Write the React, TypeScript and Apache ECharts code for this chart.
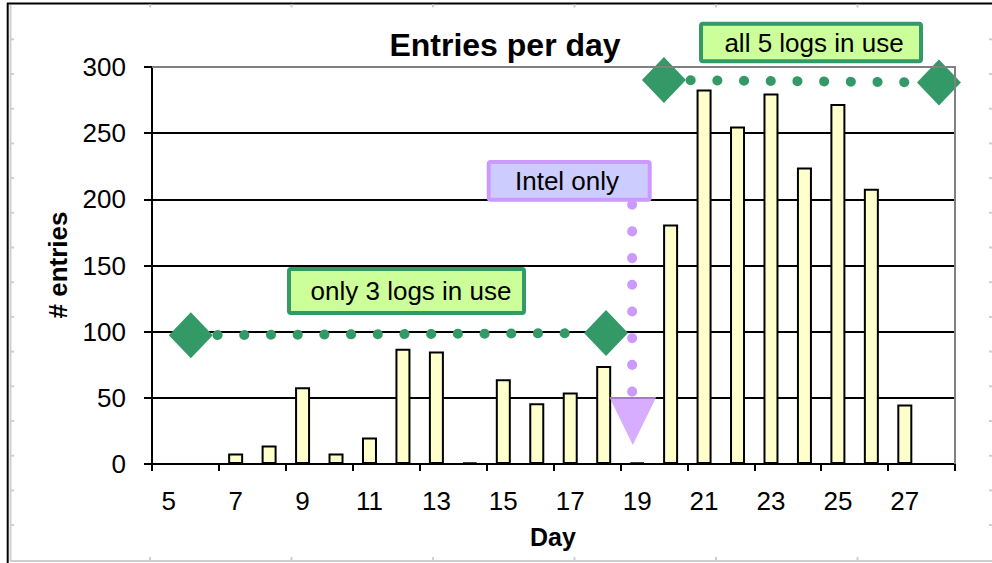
import { useEffect, useRef } from "react";
import * as echarts from "echarts";

// Day numbers on the category axis
const days = [
  "5", "6", "7", "8", "9", "10", "11", "12", "13", "14", "15", "16",
  "17", "18", "19", "20", "21", "22", "23", "24", "25", "26", "27", "28",
];

// Log entries recorded each day (null = no bar)
const entries = [
  null, null, 8, 14, 58, 8, 20, 87, 85, 1, 64, 46,
  54, 74, 1, 181, 283, 255, 280, 224, 272, 208, 45, null,
];

// Annotation markers, as [day, entries]
const threeLogsLine = [
  [5.66, 97.3],
  [18.07, 99],
];
const fiveLogsLine = [
  [19.8, 290.2],
  [28.02, 288.3],
];
const intelLine = [
  [18.85, 196],
  [18.85, 48],
];
const intelArrow = [[18.87, 32.5]];

// Annotation captions
const threeLogsLabel = "only 3 logs in use";
const fiveLogsLabel = "all 5 logs in use";
const intelLabel = "Intel only";

const FONT = "'Liberation Sans', Arial, sans-serif";
const GREEN = "#339966";
const PURPLE = "#CC99FF";

function frameGraphics() {
  const items: any[] = [];
  const grey = "#cfcfcf";
  // worksheet frame
  items.push({
    type: "line",
    shape: { x1: 7, y1: 3.5, x2: 992, y2: 3.5 },
    style: { stroke: "#000", lineWidth: 2 },
    z: 1,
  });
  items.push({
    type: "line",
    shape: { x1: 7.7, y1: 3, x2: 7.7, y2: 563 },
    style: { stroke: "#000", lineWidth: 2 },
    z: 1,
  });
  items.push({
    type: "line",
    shape: { x1: 10.5, y1: 5, x2: 10.5, y2: 561 },
    style: { stroke: grey, lineWidth: 2 },
    z: 1,
  });
  items.push({
    type: "line",
    shape: { x1: 10, y1: 561, x2: 992, y2: 561 },
    style: { stroke: grey, lineWidth: 2 },
    z: 1,
  });
  for (let y = 39.3; y < 556; y += 34.7) {
    items.push({
      type: "line",
      shape: { x1: 11, y1: y, x2: 14, y2: y },
      style: { stroke: grey, lineWidth: 2 },
      z: 1,
    });
    items.push({
      type: "line",
      shape: { x1: 989, y1: y, x2: 992, y2: y },
      style: { stroke: grey, lineWidth: 2 },
      z: 1,
    });
  }
  for (let x = 150; x < 990; x += 141.5) {
    items.push({
      type: "line",
      shape: { x1: x, y1: 4.5, x2: x, y2: 7.5 },
      style: { stroke: grey, lineWidth: 2 },
      z: 1,
    });
    items.push({
      type: "line",
      shape: { x1: x, y1: 557, x2: x, y2: 561 },
      style: { stroke: grey, lineWidth: 2 },
      z: 1,
    });
  }
  return items;
}

function captionBox(
  x: number,
  y: number,
  w: number,
  h: number,
  text: string,
  textX: number,
  fill: string,
  stroke: string
) {
  return [
    {
      type: "rect",
      shape: { x, y, width: w, height: h, r: 2 },
      style: { fill, stroke, lineWidth: 4 },
      z: 100,
    },
    {
      type: "text",
      x: textX,
      y: y + h / 2,
      style: {
        text,
        fill: "#000",
        font: `26px ${FONT}`,
        align: "center",
        verticalAlign: "middle",
      },
      z: 101,
    },
  ];
}

export default function App() {
  const ref = useRef<HTMLDivElement>(null);

  useEffect(() => {
    if (!ref.current) return;
    const chart = echarts.init(ref.current, undefined, { renderer: "svg" });

    const dotted = (color: string) => ({
      color,
      width: 10,
      type: [0.1, 26.6],
      cap: "round",
    });

    chart.setOption({
      animation: false,
      backgroundColor: "#ffffff",
      grid: { left: 152, right: 37, top: 67, bottom: 99, containLabel: false },
      xAxis: [
        {
          type: "category",
          data: days,
          boundaryGap: true,
          axisLine: { show: true, lineStyle: { color: "#000", width: 2 } },
          axisTick: {
            show: true,
            interval: 1,
            length: 7,
            alignWithLabel: false,
            lineStyle: { color: "#000", width: 2 },
          },
          axisLabel: {
            interval: 1,
            fontSize: 26,
            fontFamily: FONT,
            color: "#000",
            margin: 24,
          },
          splitLine: { show: false },
        },
        {
          type: "value",
          min: 4.5,
          max: 28.5,
          show: false,
          splitLine: { show: false },
        },
      ],
      yAxis: {
        type: "value",
        min: 0,
        max: 300,
        interval: 50,
        axisLine: { show: true, lineStyle: { color: "#000", width: 2 } },
        axisTick: {
          show: true,
          length: 8,
          lineStyle: { color: "#000", width: 2 },
        },
        axisLabel: {
          fontSize: 26,
          fontFamily: FONT,
          color: "#000",
          margin: 26,
        },
        splitLine: { show: true, lineStyle: { color: "#000", width: 2 } },
      },
      series: [
        {
          name: "Entries",
          type: "bar",
          xAxisIndex: 0,
          data: entries,
          barWidth: 15,
          itemStyle: { color: "#FFFFCC", borderColor: "#000", borderWidth: 2 },
          silent: true,
          z: 3,
        },
        {
          name: threeLogsLabel,
          type: "line",
          xAxisIndex: 1,
          data: threeLogsLine,
          symbol: "diamond",
          symbolSize: [44, 46],
          itemStyle: { color: GREEN },
          lineStyle: dotted(GREEN),
          silent: true,
          z: 5,
        },
        {
          name: fiveLogsLabel,
          type: "line",
          xAxisIndex: 1,
          data: fiveLogsLine,
          symbol: "diamond",
          symbolSize: [44, 46],
          itemStyle: { color: GREEN },
          lineStyle: dotted(GREEN),
          silent: true,
          z: 5,
        },
        {
          name: intelLabel,
          type: "line",
          xAxisIndex: 1,
          data: intelLine,
          symbol: "none",
          lineStyle: dotted(PURPLE),
          silent: true,
          z: 5,
        },
        {
          name: intelLabel + " arrow",
          type: "scatter",
          xAxisIndex: 1,
          data: intelArrow,
          symbol: "triangle",
          symbolRotate: 180,
          symbolSize: [47, 48],
          itemStyle: { color: PURPLE },
          silent: true,
          z: 6,
        },
      ],
      graphic: [
        ...frameGraphics(),
        {
          type: "polyline",
          shape: {
            points: [
              [152, 67],
              [955, 67],
              [955, 464],
            ],
          },
          style: { stroke: "#808080", lineWidth: 2, fill: null },
          z: 50,
        },
        {
          type: "text",
          x: 505,
          y: 45,
          style: {
            text: "Entries per day",
            fill: "#000",
            font: `bold 32px ${FONT}`,
            align: "center",
            verticalAlign: "middle",
          },
          z: 100,
        },
        {
          type: "text",
          x: 553,
          y: 536.5,
          style: {
            text: "Day",
            fill: "#000",
            font: `bold 25px ${FONT}`,
            align: "center",
            verticalAlign: "middle",
          },
          z: 100,
        },
        {
          type: "text",
          x: 58,
          y: 265,
          rotation: Math.PI / 2,
          style: {
            text: "# entries",
            fill: "#000",
            font: `bold 26px ${FONT}`,
            align: "center",
            verticalAlign: "middle",
          },
          z: 100,
        },
        ...captionBox(289, 269, 235, 44, threeLogsLabel, 411, "#CCFF99", GREEN),
        ...captionBox(701, 23.7, 220, 37.6, fiveLogsLabel, 814, "#CCFF99", GREEN),
        ...captionBox(488.7, 162, 161, 37.7, intelLabel, 567, "#CCCCFF", PURPLE),
      ],
    });

    return () => chart.dispose();
  }, []);

  return (
    <div
      ref={ref}
      style={{ position: "fixed", left: 0, top: 0, width: 992, height: 563 }}
    />
  );
}
